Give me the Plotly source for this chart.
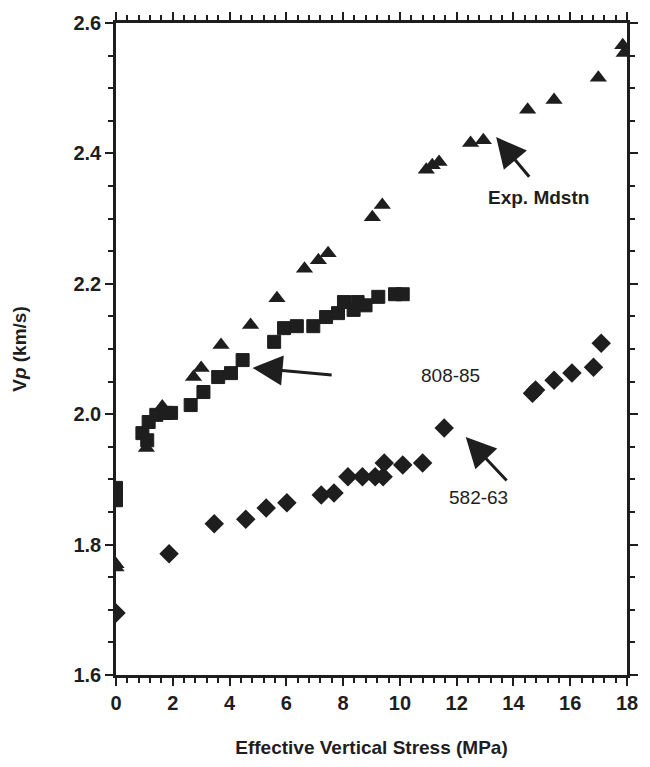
import plotly.graph_objects as go

# Exp. Mdstn (triangles)
mdstn_x = [0, 0, 1.07, 1.63, 2.73, 3.0, 3.7, 4.74, 5.67, 6.64, 7.13, 7.47, 9.03, 9.38,
           10.93, 11.14, 11.38, 12.49, 12.94, 14.5, 15.43, 16.99, 17.85, 17.9]
mdstn_y = [1.77, 1.765, 1.948, 2.012, 2.057, 2.071, 2.106, 2.137, 2.178, 2.223, 2.236, 2.247,
           2.302, 2.321, 2.375, 2.382, 2.387, 2.416, 2.42, 2.467, 2.482, 2.516, 2.566, 2.554]

# 808-85 (squares)
s808_x = [0, 0, 0.93, 1.1, 1.15, 1.42, 1.76, 1.94, 2.63, 3.08, 3.6, 4.05, 4.46, 5.57, 5.92,
          6.37, 6.95, 7.4, 7.82, 8.03, 8.37, 8.51, 8.79, 9.24, 9.83, 10.1]
s808_y = [1.887, 1.868, 1.971, 1.96, 1.988, 1.999, 2.002, 2.002, 2.014, 2.034, 2.057, 2.063,
          2.083, 2.111, 2.132, 2.135, 2.135, 2.149, 2.155, 2.172, 2.16, 2.172, 2.167, 2.18,
          2.184, 2.184]

# 582-63 (diamonds)
s582_x = [0, 1.87, 3.46, 4.57, 5.29, 6.02, 7.23, 7.68, 8.17, 8.68, 9.13, 9.41, 9.45, 10.1,
          10.8, 11.56, 14.67, 14.78, 15.43, 16.06, 16.82, 17.09]
s582_y = [1.695, 1.786, 1.832, 1.839, 1.856, 1.864, 1.876, 1.879, 1.904, 1.904, 1.904, 1.904,
          1.925, 1.922, 1.925, 1.979, 2.032, 2.037, 2.052, 2.063, 2.072, 2.109]

x_ticks = [0, 2, 4, 6, 8, 10, 12, 14, 16, 18]
y_ticks = [1.6, 1.8, 2.0, 2.2, 2.4, 2.6]
y_tick_text = ["1.6", "1.8", "2.0", "2.2", "2.4", "2.6"]

INK = "#1e1e1e"
fig = go.Figure()
fig.add_trace(go.Scatter(x=s582_x, y=s582_y, mode="markers",
                         marker=dict(symbol="diamond", size=15, color=INK,
                                     line=dict(width=0)), showlegend=False))
fig.add_trace(go.Scatter(x=mdstn_x, y=mdstn_y, mode="markers",
                         marker=dict(symbol="triangle-up", size=15, color=INK,
                                     line=dict(width=0)), showlegend=False))
fig.add_trace(go.Scatter(x=s808_x, y=s808_y, mode="markers",
                         marker=dict(symbol="square", size=13, color=INK, opacity=1,
                                     line=dict(width=1, color=INK)), showlegend=False))

font_main = "Liberation Sans, Arial, sans-serif"

ann = [
    dict(text="Exp. Mdstn", x=14.88, y=2.333, tail_x=14.6, tail_y=2.362, tip_x=13.39, tip_y=2.425, bold=True),
    dict(text="808-85", x=11.8, y=2.06, tail_x=7.65, tail_y=2.06, tip_x=4.81, tip_y=2.071, bold=False),
    dict(text="582-63", x=12.77, y=1.873, tail_x=13.81, tail_y=1.896, tip_x=12.32, tip_y=1.965, bold=False),
]
for a in ann:
    t = f"<b>{a['text']}</b>" if a["bold"] else a["text"]
    fig.add_annotation(x=a["x"], y=a["y"], text=t, showarrow=False,
                       font=dict(family=font_main, size=19, color=INK))
    fig.add_annotation(x=a["tip_x"], y=a["tip_y"], ax=a["tail_x"], ay=a["tail_y"],
                       axref="x", ayref="y", xref="x", yref="y", text="",
                       showarrow=True, arrowhead=2, arrowsize=2.0, arrowwidth=3,
                       arrowcolor=INK)

axis_common = dict(showline=True, linecolor=INK, linewidth=2.5, mirror="allticks",
                   ticks="outside", ticklen=8, tickwidth=2, tickcolor=INK,
                   showgrid=False, zeroline=False,
                   tickfont=dict(family=font_main, size=20, color=INK))

fig.update_xaxes(range=[0, 18], tickvals=x_ticks, ticktext=[f"<b>{t}</b>" for t in x_ticks],
                 minor=dict(dtick=0.4, tick0=0, ticks="outside", ticklen=5, tickwidth=1.5,
                            tickcolor=INK, showgrid=False),
                 title=dict(text="<b>Effective Vertical Stress (MPa)</b>",
                            font=dict(family=font_main, size=19, color=INK), standoff=28),
                 **axis_common)
fig.update_yaxes(range=[1.6, 2.6], tickvals=y_ticks, ticktext=[f"<b>{t}</b>" for t in y_tick_text],
                 minor=dict(dtick=0.05, tick0=1.6, ticks="outside", ticklen=5, tickwidth=1.5,
                            tickcolor=INK, showgrid=False),
                 title=dict(text="<b>V<i>p</i> (km/s)</b>",
                            font=dict(family=font_main, size=19, color=INK), standoff=42),
                 **axis_common)

fig.update_layout(width=650, height=767, margin=dict(l=116, r=14, t=23, b=92),
                  plot_bgcolor="white", paper_bgcolor="white")

fig.write_html("out.html")
